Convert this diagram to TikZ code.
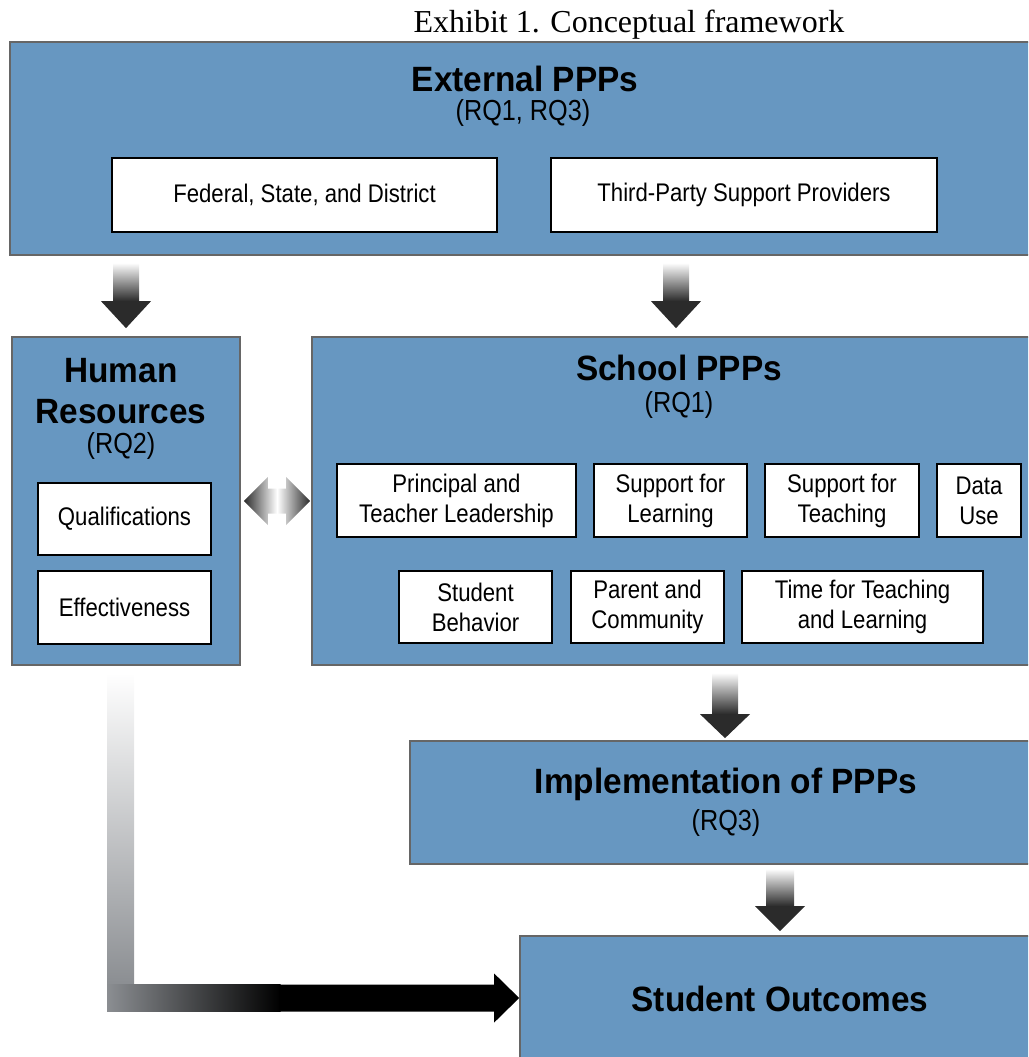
\documentclass[tikz,border=0pt]{standalone}
\usepackage{fontspec}
\usetikzlibrary{calc}

\newfontfamily\boxfont{Liberation Sans}[FakeStretch=0.87]
\newfontfamily\headfont{Liberation Sans}[FakeStretch=0.95]
\newfontfamily\captionfont{Liberation Serif}

\definecolor{panelblue}{RGB}{103,151,193}
\definecolor{arrowdark}{RGB}{43,43,43}
\definecolor{leadgray}{RGB}{139,142,146}

\begin{document}
\begin{tikzpicture}[x=0.02cm, y=-0.02cm,
  panel/.style={draw=black!60, line width=1pt, fill=panelblue},
  item/.style={draw=black, line width=1.1pt, fill=white, align=center, inner sep=0pt,
    font=\boxfont\fontsize{14.5}{17}\selectfont},
  head/.style={align=center, inner sep=0pt, font=\headfont\bfseries\fontsize{20}{23}\selectfont},
  rq/.style={inner sep=0pt, font=\boxfont\fontsize{16.5}{19}\selectfont}]
\useasboundingbox (0,0) rectangle (1028,1057);
\clip (0,0) rectangle (1028,1057);

\node[inner sep=0pt, font=\captionfont\fontsize{18.2}{21}\selectfont] at (629,25) (title) {Exhibit 1. Conceptual framework};

% external level
\node[panel, minimum width=20.6cm, minimum height=4.26cm] at (525,148.5) (ext) {};
\node[head] at (525,79) (exthead) {External PPPs};
\node[rq] at (523,113) (extrq) {(RQ1, RQ3)};
\node[item, minimum width=7.7cm, minimum height=1.48cm] at (304.5,195) (fsd) {Federal, State, and District};
\node[item, minimum width=7.72cm, minimum height=1.48cm] at (744,195) (tps) {Third-Party Support Providers};

% human resources
\node[panel, minimum width=4.56cm, minimum height=6.56cm] at (126,501) (hr) {};
\node[head] at (121,391) (hrhead) {Human\\Resources};
\node[rq] at (121,446) (hrrq) {(RQ2)};
\node[item, minimum width=3.46cm, minimum height=1.45cm] at (124.5,519) (qual) {Qualifications};
\node[item, minimum width=3.46cm, minimum height=1.45cm] at (124.5,607.5) (eff) {Effectiveness};

% school level
\node[panel, minimum width=14.56cm, minimum height=6.56cm] at (676,501) (school) {};
\node[head] at (679,368) (schoolhead) {School PPPs};
\node[rq] at (679,405) (schoolrq) {(RQ1)};
\node[item, minimum width=4.78cm, minimum height=1.46cm] at (456.5,500.5) (lead) {Principal and\\Teacher Leadership};
\node[item, minimum width=3.06cm, minimum height=1.46cm] at (670.5,500.5) (suplearn) {Support for\\Learning};
\node[item, minimum width=3.08cm, minimum height=1.46cm] at (842,500.5) (supteach) {Support for\\Teaching};
\node[item, minimum width=1.68cm, minimum height=1.46cm] at (979,500.5) (data) {Data\\Use};
\node[item, minimum width=3.06cm, minimum height=1.44cm] at (475.5,607) (behav) {Student\\Behavior};
\node[item, minimum width=3.06cm, minimum height=1.44cm] at (647.5,607) (parent) {Parent and\\Community};
\node[item, minimum width=4.82cm, minimum height=1.44cm] at (862.5,607) (time) {Time for Teaching\\and Learning};

% implementation and outcomes
\node[panel, minimum width=12.6cm, minimum height=2.46cm] at (725,802.5) (impl) {};
\node[head] at (726,784) (implhead) {Implementation of PPPs};
\node[rq] at (726,823) (implrq) {(RQ3)};
\node[panel, minimum width=10.4cm, minimum height=2.48cm] at (780,998) (outc) {};
\node[head] at (780,999) (outchead) {Student Outcomes};

% block arrows down
\coordinate (a1) at (ext.south -| hr.north);
\shade[top color=white, bottom color=arrowdark] ($(a1)+(-13,7)$) rectangle ($(hr.north)+(13,-35)$);
\fill[arrowdark] ($(hr.north)+(-25,-35)$) -- ($(hr.north)+(25,-35)$) -- ($(hr.north)+(0,-8)$) -- cycle;
\coordinate (a2) at (ext.south -| school.north);
\shade[top color=white, bottom color=arrowdark] ($(a2)+(-13,7)$) rectangle ($(school.north)+(13,-35)$);
\fill[arrowdark] ($(school.north)+(-25,-35)$) -- ($(school.north)+(25,-35)$) -- ($(school.north)+(0,-8)$) -- cycle;
\coordinate (a3) at (school.south -| impl.north);
\shade[top color=white, bottom color=arrowdark] ($(a3)+(-13,7)$) rectangle ($(impl.north)+(13,-26)$);
\fill[arrowdark] ($(impl.north)+(-25,-26)$) -- ($(impl.north)+(25,-26)$) -- ($(impl.north)+(0,-2)$) -- cycle;
\coordinate (a4) at (impl.south -| outc.north);
\shade[top color=white, bottom color=arrowdark] ($(a4)+(-14,4)$) rectangle ($(outc.north)+(14,-29)$);
\fill[arrowdark] ($(outc.north)+(-25,-29)$) -- ($(outc.north)+(25,-29)$) -- ($(outc.north)+(0,-4)$) -- cycle;

% two-way arrow between human resources and school
\coordinate (lt) at ($(hr.east)+(3,0)$);
\coordinate (rt) at ($(school.west)+(-1,0)$);
\shade[left color=arrowdark, right color=arrowdark, middle color=white]
  (lt) -- ($(lt)+(24,-24)$) -- ($(lt)+(24,-12.5)$) -- ($(rt)+(-24,-12.5)$) -- ($(rt)+(-24,-24)$)
  -- (rt) -- ($(rt)+(-24,24)$) -- ($(rt)+(-24,12.5)$) -- ($(lt)+(24,12.5)$) -- ($(lt)+(24,24)$) -- cycle;

% bent arrow from human resources to outcomes
\coordinate (lv) at ($(hr.south)+(-5.5,7)$);
\coordinate (lc) at (lv |- outc.west);
\shade[top color=white, bottom color=leadgray] ($(lv)+(-13.5,0)$) rectangle ($(lc)+(13.5,-13.5)$);
\shade[left color=leadgray, right color=black] ($(lc)+(-13.5,-13.5)$) rectangle ($(lc)+(160,13.5)$);
\fill[black] ($(lc)+(159,-13.5)$) -- ($(outc.west)+(-25,-13.5)$) -- ($(outc.west)+(-25,-24.5)$) -- (outc.west)
  -- ($(outc.west)+(-25,24.5)$) -- ($(outc.west)+(-25,13.5)$) -- ($(lc)+(159,13.5)$) -- cycle;
\end{tikzpicture}
\end{document}
